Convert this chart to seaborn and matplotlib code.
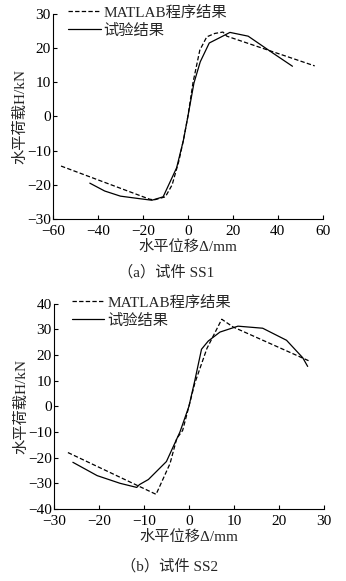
import pandas as pd
import matplotlib
matplotlib.use("Agg")
import matplotlib.pyplot as plt
import seaborn as sns

sns.set_theme(style="ticks")
plt.rcParams['font.family'] = ['Liberation Serif', 'Noto Sans CJK SC']
plt.rcParams['axes.unicode_minus'] = True

# Specimen SS1 (panel a)
ss1_matlab_x = [-56.4, -17, -15, -10, -7, -4, -2, 0, 2.3, 5.3, 8.4, 12, 15.6, 17.3, 56.4]
ss1_matlab_y = [-14.5, -24.2, -24.4, -23.5, -20, -13, -7, 0, 10, 19.4, 23.3, 24.3, 24.7, 23.5, 14.8]
ss1_test_x = [-43.6, -37, -30, -22, -16, -11, -5, -2, 0, 2.7, 5.5, 9.5, 14, 18.7, 26.8, 37.9, 46.5]
ss1_test_y = [-19.5, -21.8, -23.3, -24, -24.5, -23.5, -15, -7, 0, 9.8, 16, 21.5, 23, 24.6, 23.5, 18.5, 14.7]

# Specimen SS2 (panel b)
ss2_matlab_x = [-26.9, -7.3, -4.2, -2.7, -1.4, 0, 1.3, 4, 7.3, 9.8, 26.9]
ss2_matlab_y = [-18, -34.3, -22.3, -12.5, -9.4, 0, 9, 22.6, 34, 31, 17.6]
ss2_test_x = [-25.8, -20.4, -15.3, -11.6, -11, -9, -5, -2, 0, 1.3, 2.8, 4.3, 6.9, 10.9, 16.4, 21.7, 25.3, 26.4]
ss2_test_y = [-21.8, -27, -30, -31.6, -30.5, -28.5, -21.5, -10, 0, 10, 22.3, 25.5, 29, 31.3, 30.5, 25.8, 19, 15.6]

labels = ['MATLAB程序结果', '试验结果']
captions = ['（a）试件 SS1', '（b）试件 SS2']


def make_df(mx, my, tx, ty):
    a = pd.DataFrame({'x': mx, 'y': my, 'src': labels[0]})
    b = pd.DataFrame({'x': tx, 'y': ty, 'src': labels[1]})
    return pd.concat([a, b], ignore_index=True)


panels = [
    (make_df(ss1_matlab_x, ss1_matlab_y, ss1_test_x, ss1_test_y),
     (-60, 60), [-60, -40, -20, 0, 20, 40, 60], (-30, 30), [-30, -20, -10, 0, 10, 20, 30]),
    (make_df(ss2_matlab_x, ss2_matlab_y, ss2_test_x, ss2_test_y),
     (-30, 30), [-30, -20, -10, 0, 10, 20, 30], (-40, 40), [-40, -30, -20, -10, 0, 10, 20, 30, 40]),
]

fs = 11
fig = plt.figure(figsize=(3.46, 5.81), dpi=100)
fig.patch.set_facecolor('white')
positions = [[0.153, 0.623, 0.780, 0.353], [0.156, 0.124, 0.780, 0.353]]
caption_y = [0.519, 0.012]
legend_x = [0.035, 0.045]

for i, (df, xlim, xt, ylim, yt) in enumerate(panels):
    ax = fig.add_axes(positions[i])
    sns.lineplot(data=df, x='x', y='y', hue='src', style='src', sort=False,
                 palette=['black', 'black'], dashes=[(3.5, 1.8), ''],
                 linewidth=0.9, ax=ax, legend=True)
    ax.set_xlim(*xlim)
    ax.set_ylim(*ylim)
    ax.set_xticks(xt)
    ax.set_yticks(yt)
    ax.tick_params(direction='in', length=3, width=0.8, labelsize=fs, colors='black')
    ax.tick_params(axis='x', pad=4)
    ax.tick_params(axis='y', pad=1.5)
    for s in ['top', 'right']:
        ax.spines[s].set_visible(False)
    for s in ['left', 'bottom']:
        ax.spines[s].set_linewidth(0.8)
        ax.spines[s].set_color('black')
    ax.set_xlabel('水平位移Δ/mm', fontsize=fs, labelpad=2)
    ax.set_ylabel('水平荷载H/kN', fontsize=fs, labelpad=0)
    ax.legend(loc='upper left', bbox_to_anchor=(legend_x[i], 1.07),
              frameon=False, fontsize=fs, handlelength=2.1,
              handletextpad=0.2, labelspacing=0.25, borderaxespad=0)
    fig.text(0.48 + 0.01 * i, caption_y[i], captions[i], ha='center', va='bottom', fontsize=fs)

fig.savefig('out.png', dpi=100, facecolor='white')
